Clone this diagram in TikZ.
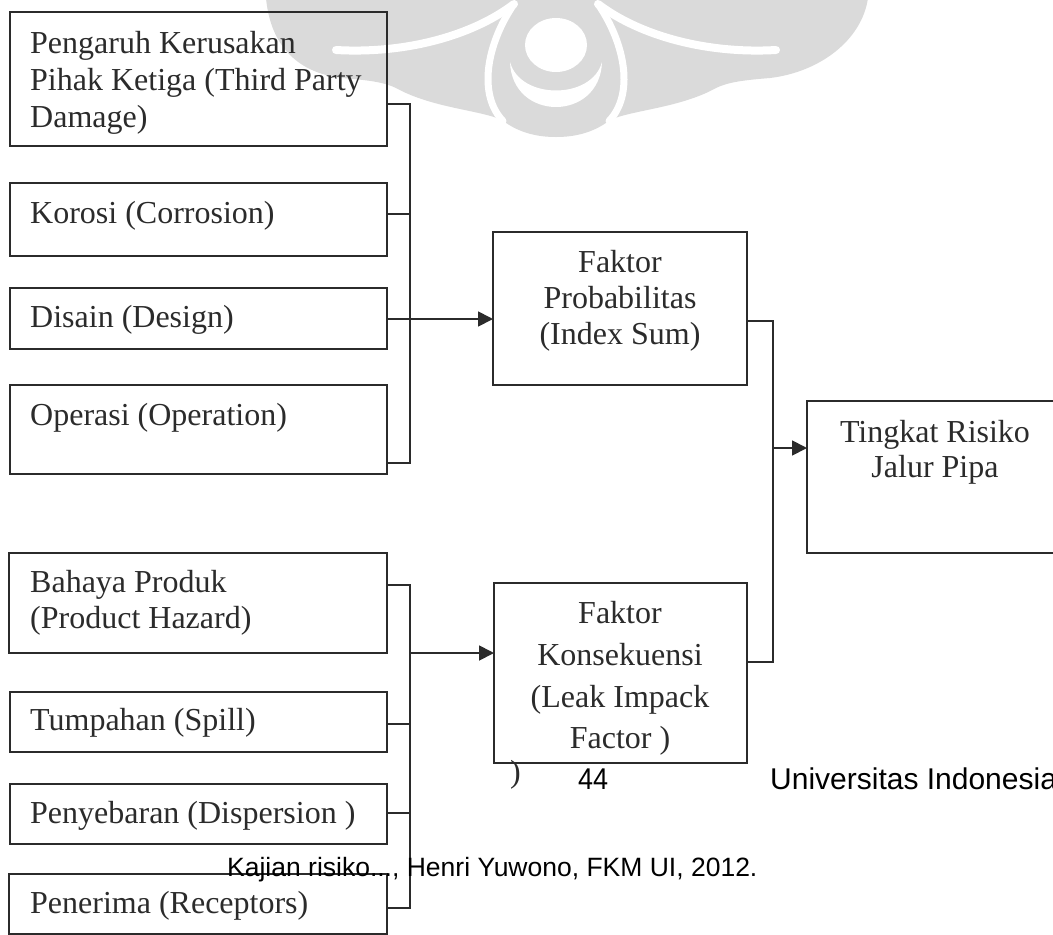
\documentclass[tikz,border=0pt]{standalone}
\usepackage{fontspec}
\setmainfont{Liberation Serif}
\newfontfamily\arialf{Liberation Sans}
\usetikzlibrary{arrows.meta}
\definecolor{ink}{HTML}{2B2B2B}
\definecolor{markgray}{HTML}{DADADA}

\begin{document}
\begin{tikzpicture}[x=1pt,y=-1pt,
  box/.style={draw=ink, line width=2pt, anchor=north west, inner sep=0pt, outer sep=0pt},
  wire/.style={draw=ink, line width=1.8pt},
  feed/.style={wire, -{Triangle[length=15pt,width=15pt]}},
  lbl/.style={font=\fontsize{32}{37}\selectfont, text=ink, inner sep=0pt, anchor=base west},
  clbl/.style={lbl, anchor=base},
  foot/.style={font=\arialf\fontsize{30}{34}\selectfont, text=black, inner sep=0pt, anchor=base west},
  cut/.style={white, line width=8pt, line cap=round}]

\useasboundingbox (0,0) rectangle (1053,935);
\clip (0,0) rectangle (1053,935);
\fill[white] (0,0) rectangle (1053,935);

% faint university emblem behind the chart
\fill[markgray] (266,-2) -- (868,-2)
  .. controls (862,40) and (820,72) .. (770,78)
  .. controls (745,80) and (728,82) .. (716,88)
  .. controls (680,108) and (632,110) .. (610,120)
  .. controls (592,134) and (572,137) .. (556,137)
  .. controls (540,137) and (520,134) .. (502,120)
  .. controls (480,110) and (432,108) .. (396,88)
  .. controls (384,82) and (367,80) .. (342,78)
  .. controls (292,72) and (270,40) .. (266,-2) -- cycle;
% wing stripes
\draw[cut] (336,50) .. controls (405,54) and (472,36) .. (514,4);
\draw[cut] (776,50) .. controls (707,54) and (640,36) .. (598,4);
% horn stripes
\draw[cut, line width=7pt] (514,4) .. controls (486,45) and (478,95) .. (503,121);
\draw[cut, line width=7pt] (598,4) .. controls (626,45) and (634,95) .. (609,121);
% ring and crescent
\fill[white] (556,45) ellipse[x radius=31pt, y radius=27pt];
\fill[white] (510,62) .. controls (512,122) and (600,122) .. (602,62)
  .. controls (592,100) and (520,100) .. (510,62) -- cycle;

% probability factors
\node[box, minimum width=377pt, minimum height=134pt] (b1) at (10,12) {};
\node[box, minimum width=377pt, minimum height=73pt]  (b2) at (10,183) {};
\node[box, minimum width=377pt, minimum height=61pt]  (b3) at (10,288) {};
\node[box, minimum width=377pt, minimum height=89pt]  (b4) at (10,385) {};

\node[lbl] (t1a) at (30,53)  {Pengaruh Kerusakan};
\node[lbl] (t1b) at (30,90)  {Pihak Ketiga (Third Party};
\node[lbl] (t1c) at (30,127) {Damage)};
\node[lbl] (t2)  at (30,223) {Korosi (Corrosion)};
\node[lbl] (t3)  at (30,327) {Disain (Design)};
\node[lbl] (t4)  at (30,425) {Operasi (Operation)};

% consequence factors
\node[box, minimum width=378pt, minimum height=100pt] (c1) at (9,553) {};
\node[box, minimum width=377pt, minimum height=60pt]  (c2) at (10,692) {};
\node[box, minimum width=377pt, minimum height=60pt]  (c3) at (10,784) {};
\node[box, minimum width=378pt, minimum height=60pt]  (c4) at (9,874) {};

\node[lbl] (u1a) at (30,592) {Bahaya Produk};
\node[lbl] (u1b) at (30,628) {(Product Hazard)};
\node[lbl] (u2)  at (30,730) {Tumpahan (Spill)};
\node[lbl] (u3)  at (30,823) {Penyebaran (Dispersion )};
\node[lbl] (u4)  at (30,913) {Penerima (Receptors)};

% aggregate factors
\node[box, minimum width=254pt, minimum height=153pt] (fp) at (493,232) {};
\node[box, minimum width=253pt, minimum height=180pt] (fk) at (494,583) {};
\node[box, minimum width=263pt, minimum height=152pt] (tr) at (807,401) {};

\node[clbl] (fpa) at (620,272) {Faktor};
\node[clbl] (fpb) at (620,308) {Probabilitas};
\node[clbl] (fpc) at (620,344) {(Index Sum)};

\node[clbl] (fka) at (620,623) {Faktor};
\node[clbl] (fkb) at (620,665) {Konsekuensi};
\node[clbl] (fkc) at (620,707) {(Leak Impack};
\node[clbl] (fkd) at (620,748) {Factor )};

\node[clbl] (tra) at (935,442) {Tingkat Risiko};
\node[clbl] (trb) at (935,477) {Jalur Pipa};

% bus bars
\coordinate (pTop) at (410,104);
\coordinate (pBot) at (410,463);
\coordinate (kTop) at (410,585);
\coordinate (kBot) at (410,908);
\coordinate (rTop) at (773,321);
\coordinate (rBot) at (773,662);

\draw[wire] (b1.east |- pTop) -- (pTop) -- (pBot) -- (b4.east |- pBot);
\draw[wire] (b2.east |- 0,214) -- (pTop |- 0,214);
\draw[feed] (b3.east |- 0,319) -- (fp.west |- 0,319);

\draw[wire] (c1.east |- kTop) -- (kTop) -- (kBot) -- (c4.east |- kBot);
\draw[wire] (c2.east |- 0,724) -- (kTop |- 0,724);
\draw[wire] (c3.east |- 0,813) -- (kTop |- 0,813);
\draw[feed] (kTop |- 0,653) -- (fk.west |- 0,653);

\draw[wire] (fp.east |- rTop) -- (rTop) -- (rBot) -- (fk.east |- rBot);
\draw[feed] (rTop |- 0,448) -- (tr.west |- 0,448);

% page furniture
\node[lbl] (par) at (510,782) {)};
\node[foot, xscale=0.9] (pg) at (578,789) {44};
\node[foot] (uni) at (770,789) {Universitas Indonesia};
\node[foot, font=\arialf\fontsize{26.5}{30}\selectfont] (cite) at (227,876) {Kajian risiko..., Henri Yuwono, FKM UI, 2012.};
\end{tikzpicture}
\end{document}
